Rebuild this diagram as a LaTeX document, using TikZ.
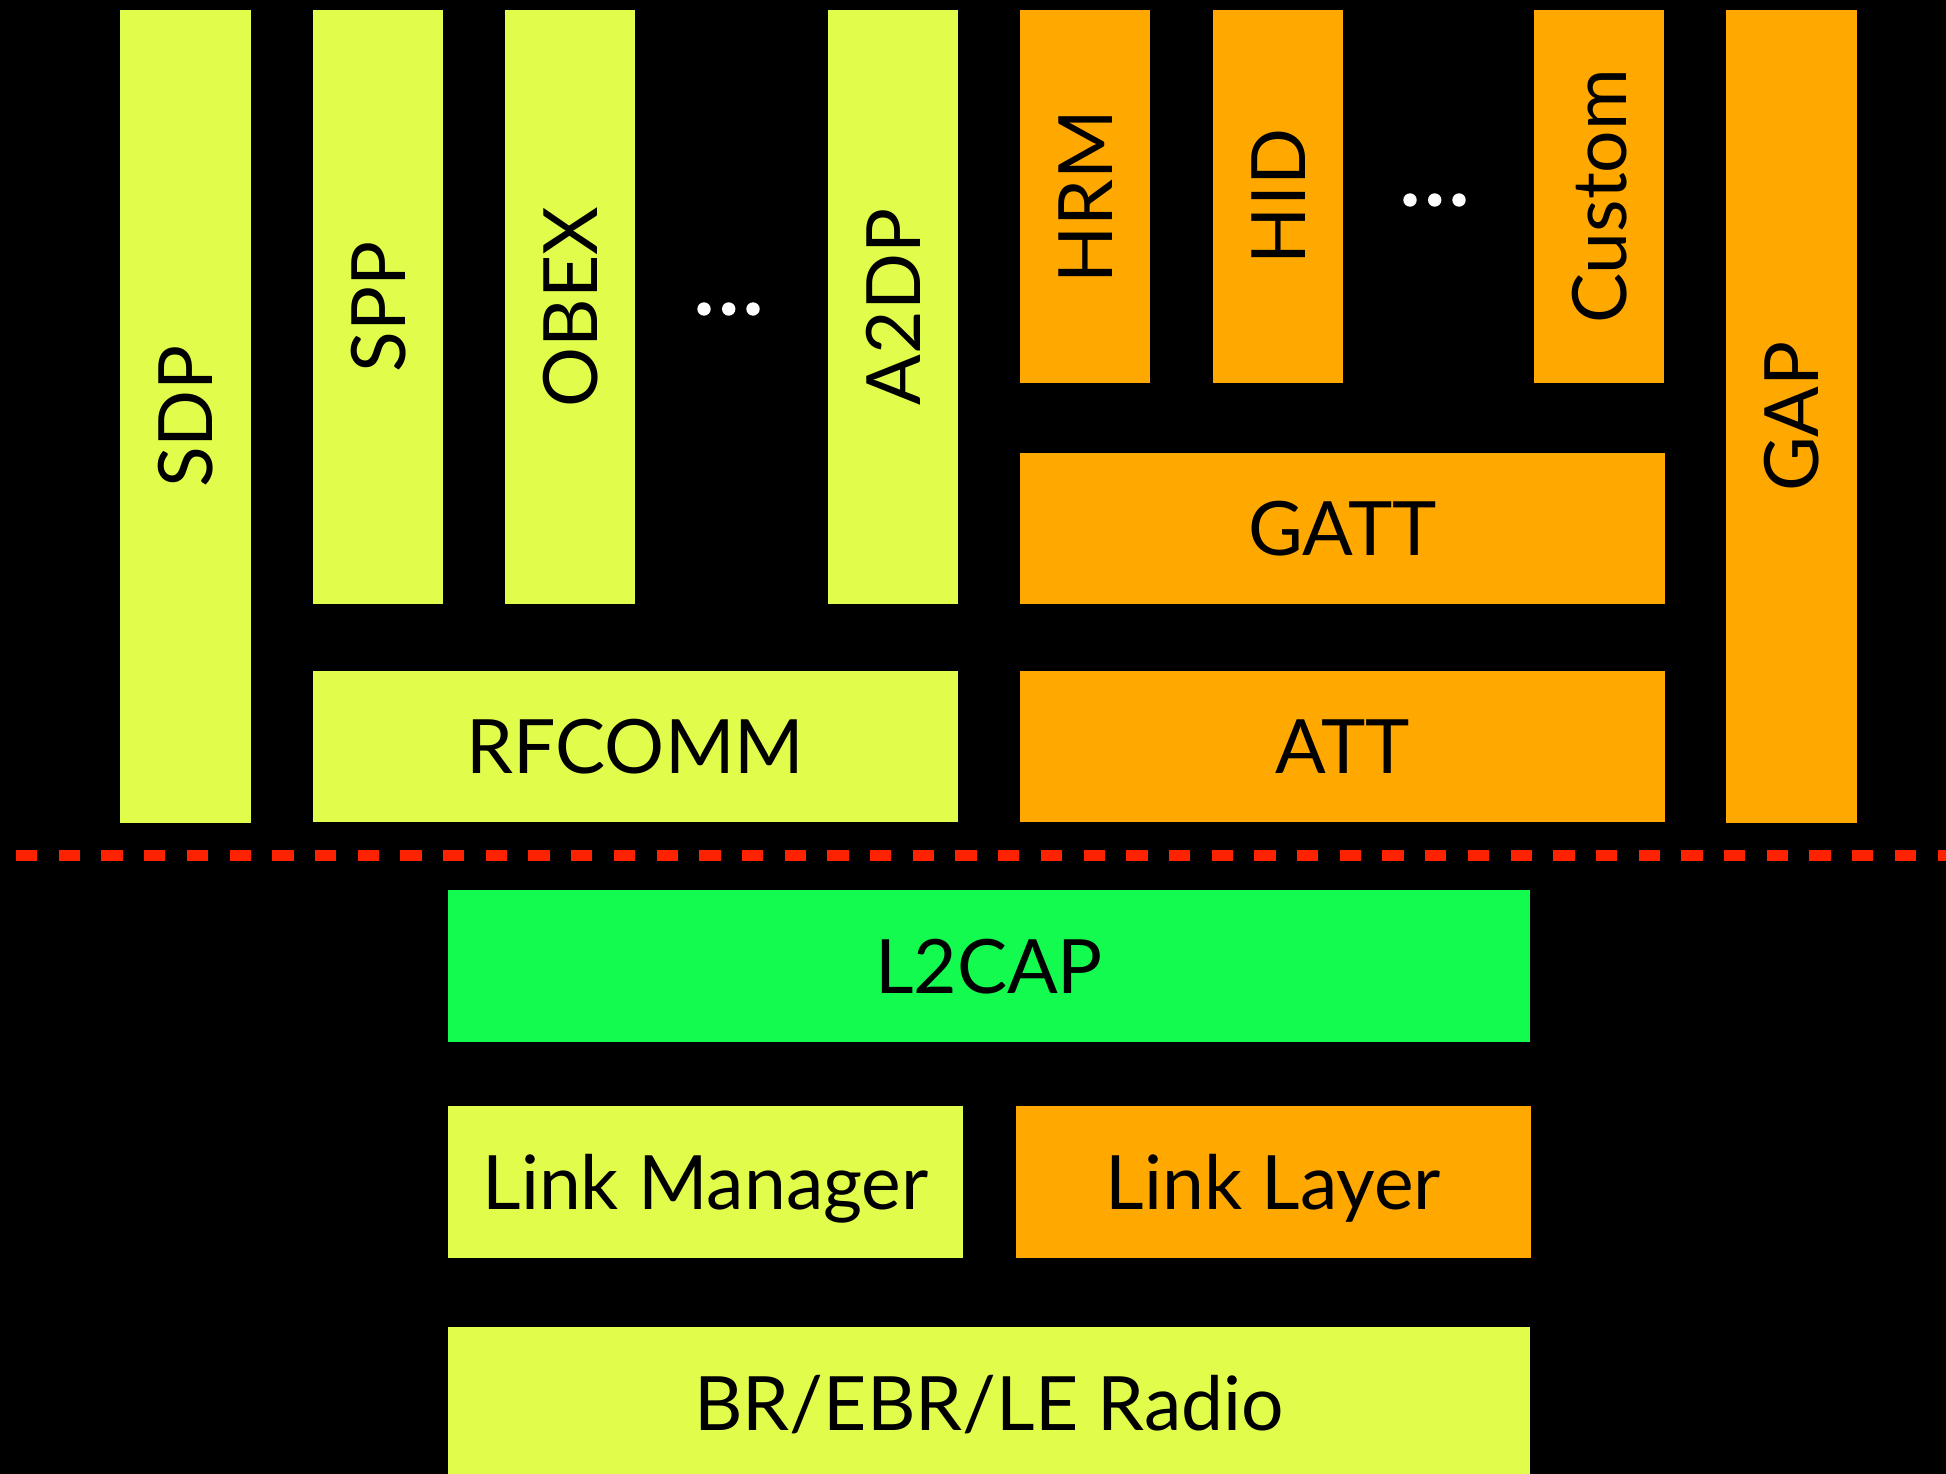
\documentclass[tikz,border=0pt]{standalone}
\usepackage{fontspec}
\setmainfont{Lato}
\definecolor{stackLime}{RGB}{226,252,76}
\definecolor{stackOrange}{RGB}{255,168,0}
\definecolor{stackGreen}{RGB}{19,251,79}
\definecolor{sepRed}{RGB}{255,34,0}
\tikzset{
  blk/.style={rectangle, inner sep=0pt, outer sep=0pt, text=black,
    font=\fontsize{75}{90}\selectfont, text height=54pt, text depth=0pt},
  classic/.style={blk, fill=stackLime},
  lowenergy/.style={blk, fill=stackOrange},
  shared/.style={blk, fill=stackGreen},
  col/.style={rotate=90, minimum height=130pt},
  more/.style={fill=white},
  split/.style={draw=sepRed, line width=10.7pt, dash pattern=on 21.35pt off 21.35pt}
}
\begin{document}
\begin{tikzpicture}[x=1pt, y=-1pt]
  % background
  \fill[black] (0,0) rectangle (1946,1474);
  \useasboundingbox (0,0) rectangle (1946,1474);

  % host profiles (classic)
  \node[classic, col, minimum width=813pt, minimum height=131pt] (sdp) at (185.5,416.5) {SDP};
  \node[classic, col, minimum width=594pt] (spp)  at (378,307) {SPP};
  \node[classic, col, minimum width=594pt] (obex) at (570,307) {OBEX};
  \node[classic, col, minimum width=594pt] (a2dp) at (893,307) {A2DP};

  % host profiles (low energy)
  \node[lowenergy, col, minimum width=373pt] (hrm)    at (1085,196.5) {HRM};
  \node[lowenergy, col, minimum width=373pt] (hid)    at (1278,196.5) {HID};
  \node[lowenergy, col, minimum width=373pt] (custom) at (1599,196.5) {Custom};
  \node[lowenergy, col, minimum width=813pt, minimum height=131pt] (gap) at (1791.5,416.5) {GAP};

  % more profiles
  \foreach \dx in {704,728.7,753} \fill[more] (\dx,309) circle (6.7);
  \foreach \dx in {1410,1434.7,1459} \fill[more] (\dx,200) circle (6.7);

  % middle protocol layers
  \node[lowenergy, minimum width=645pt, minimum height=151pt] (gatt)   at (1342.5,528.5) {GATT};
  \node[classic,   minimum width=645pt, minimum height=151pt] (rfcomm) at (635.5,746.5) {RFCOMM};
  \node[lowenergy, minimum width=645pt, minimum height=151pt] (att)    at (1342.5,746.5) {ATT};

  % host / controller boundary
  \coordinate (hciL) at (16,855.5);
  \coordinate (hciR) at (1960,855.5);
  \draw[split] (hciL) -- (hciR);

  % controller side
  \node[shared,    minimum width=1082pt, minimum height=152pt] (l2cap) at (989,966) {L2CAP};
  \node[classic,   minimum width=515pt,  minimum height=152pt] (lm)    at (705.5,1182) {Link Manager};
  \node[lowenergy, minimum width=515pt,  minimum height=152pt] (ll)    at (1273.5,1182) {Link Layer};
  \fill[stackLime] (448,1327) rectangle (1530,1474);
  \node[blk] (radio) at (989,1403) {BR/EBR/LE Radio};
\end{tikzpicture}
\end{document}
